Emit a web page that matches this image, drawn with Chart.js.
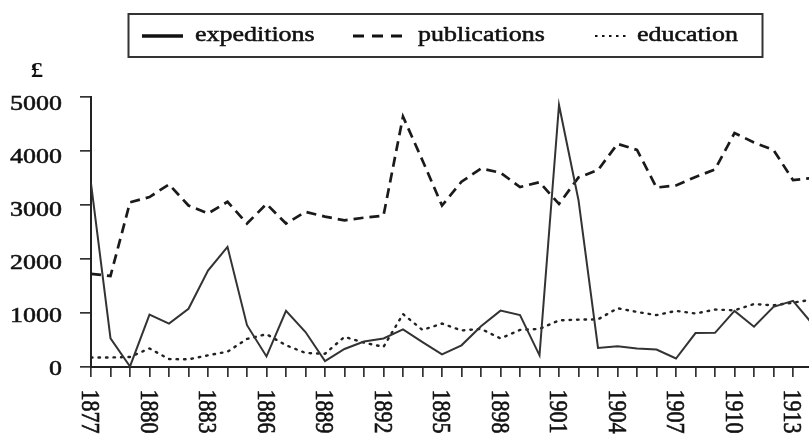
<!DOCTYPE html>
<html><head><meta charset="utf-8">
<script src="https://cdn.jsdelivr.net/npm/chart.js@4.4.1/dist/chart.umd.min.js"></script>
<style>html,body{margin:0;padding:0;background:#fff}#wrap{width:809px;height:435px;overflow:hidden}</style>
</head><body><div id="wrap"><canvas id="c" width="809" height="435"></canvas></div>
<script>
const years = [1877,1878,1879,1880,1881,1882,1883,1884,1885,1886,1887,1888,1889,1890,1891,1892,1893,1894,1895,1896,1897,1898,1899,1900,1901,1902,1903,1904,1905,1906,1907,1908,1909,1910,1911,1912,1913,1914];
const expeditions = [3470,540,10,990,820,1100,1820,2270,790,200,1060,660,110,340,480,540,710,470,240,410,770,1065,980,220,4950,3150,360,390,350,330,160,640,645,1060,760,1135,1250,810];
const publications = [1760,1720,3110,3210,3450,3050,2900,3120,2710,3080,2710,2930,2840,2770,2820,2860,4730,3900,3050,3500,3750,3670,3400,3490,3080,3580,3720,4215,4100,3390,3430,3590,3730,4420,4240,4100,3530,3570];
const education = [180,180,190,350,150,145,220,290,530,620,410,265,250,570,460,380,1000,700,820,690,720,540,700,720,880,895,900,1110,1040,980,1060,1010,1085,1070,1190,1165,1215,1275];
const seriesNames = ['expeditions','publications','education'];
const yTickValues = [0,1000,2000,3000,4000,5000];
const xTickLabels = ['1877','1880','1883','1886','1889','1892','1895','1898','1901','1904','1907','1910','1913'];
const unitLabel = '£';

const STRETCH = 1.18;
const FONT = '22px "Liberation Serif", "Times New Roman", serif';
const INK = '#111';

function pts(vals){ return years.map((y,i)=>({x:y, y:vals[i]})); }

function inkText(ctx, s){
  ctx.fillText(s,0,0);
  ctx.strokeText(s,0,0);
}

const textPlugin = {
  id: 'paperText',
  afterDraw(chart){
    const ctx = chart.ctx;
    const xs = chart.scales.x, ys = chart.scales.y;
    ctx.save();
    ctx.fillStyle = INK;
    ctx.strokeStyle = INK;
    ctx.lineWidth = 0.55;
    ctx.font = FONT;
    ctx.textBaseline = 'alphabetic';
    // y tick labels
    yTickValues.forEach(v=>{
      const py = ys.getPixelForValue(v);
      ctx.save();
      ctx.translate(62, py + 7.6);
      ctx.scale(STRETCH,1);
      ctx.textAlign = 'right';
      inkText(ctx, String(v));
      ctx.restore();
    });
    // x tick labels, rotated clockwise
    xTickLabels.forEach(l=>{
      const px = xs.getPixelForValue(Number(l));
      ctx.save();
      ctx.translate(px - 8.8, 389.5);
      ctx.scale(STRETCH,1);
      ctx.rotate(Math.PI/2);
      ctx.textAlign = 'left';
      inkText(ctx, l);
      ctx.restore();
    });
    // unit label
    ctx.save();
    ctx.font = 'bold 21px "Liberation Serif", "Times New Roman", serif';
    ctx.translate(37, 77);
    ctx.scale(STRETCH,1);
    ctx.textAlign = 'center';
    ctx.fillText(unitLabel,0,0);
    ctx.restore();
    // legend box
    ctx.save();
    ctx.strokeStyle = '#333';
    ctx.lineWidth = 2;
    ctx.strokeRect(128.5, 14, 634, 43);
    ctx.restore();
    const items = [
      {x0:142, x1:183, dash:[], w:3.5, tx:195},
      {x0:353, x1:403, dash:[11,8], w:3, tx:418},
      {x0:595, x1:628, dash:[2.5,4.5], w:2.2, tx:637}
    ];
    items.forEach((it,i)=>{
      ctx.save();
      ctx.lineWidth = it.w;
      ctx.setLineDash(it.dash);
      ctx.beginPath();
      ctx.moveTo(it.x0, 36); ctx.lineTo(it.x1, 36);
      ctx.stroke();
      ctx.restore();
      ctx.save();
      ctx.translate(it.tx, 41);
      ctx.scale(STRETCH,1);
      ctx.textAlign = 'left';
      inkText(ctx, seriesNames[i]);
      ctx.restore();
    });
    ctx.restore();
  }
};

new Chart(document.getElementById('c'), {
  type: 'line',
  data: {
    datasets: [
      {label: seriesNames[0], data: pts(expeditions), borderColor:'#333', borderWidth:2, pointRadius:0, tension:0},
      {label: seriesNames[1], data: pts(publications), borderColor:'#1a1a1a', borderWidth:2.7, borderDash:[10,6], pointRadius:0, tension:0},
      {label: seriesNames[2], data: pts(education), borderColor:'#222', borderWidth:2.4, borderDash:[1.5,6], borderCapStyle:'round', pointRadius:0, tension:0}
    ]
  },
  options: {
    responsive: false,
    animation: false,
    devicePixelRatio: 1,
    layout: {padding: {top: 97, left: 0, right: 0, bottom: 0}},
    plugins: {legend: {display: false}, tooltip: {enabled: false}},
    scales: {
      x: {
        type: 'linear', min: 1877, max: 1913.82,
        ticks: {display: false, stepSize: 1, includeBounds: false},
        grid: {drawOnChartArea: false, drawTicks: true, tickLength: 10, color: '#333', lineWidth: 1.7},
        border: {display: true, color: '#222', width: 2},
        afterFit(s){ s.height = 68; }
      },
      y: {
        type: 'linear', min: 0, max: 5100,
        ticks: {display: false, stepSize: 1000, includeBounds: false},
        grid: {drawOnChartArea: false, drawTicks: true, tickLength: 11, color: '#333', lineWidth: 1.7},
        border: {display: true, color: '#222', width: 2},
        afterFit(s){ s.width = 91; }
      }
    }
  },
  plugins: [textPlugin]
});
</script>
</body></html>
